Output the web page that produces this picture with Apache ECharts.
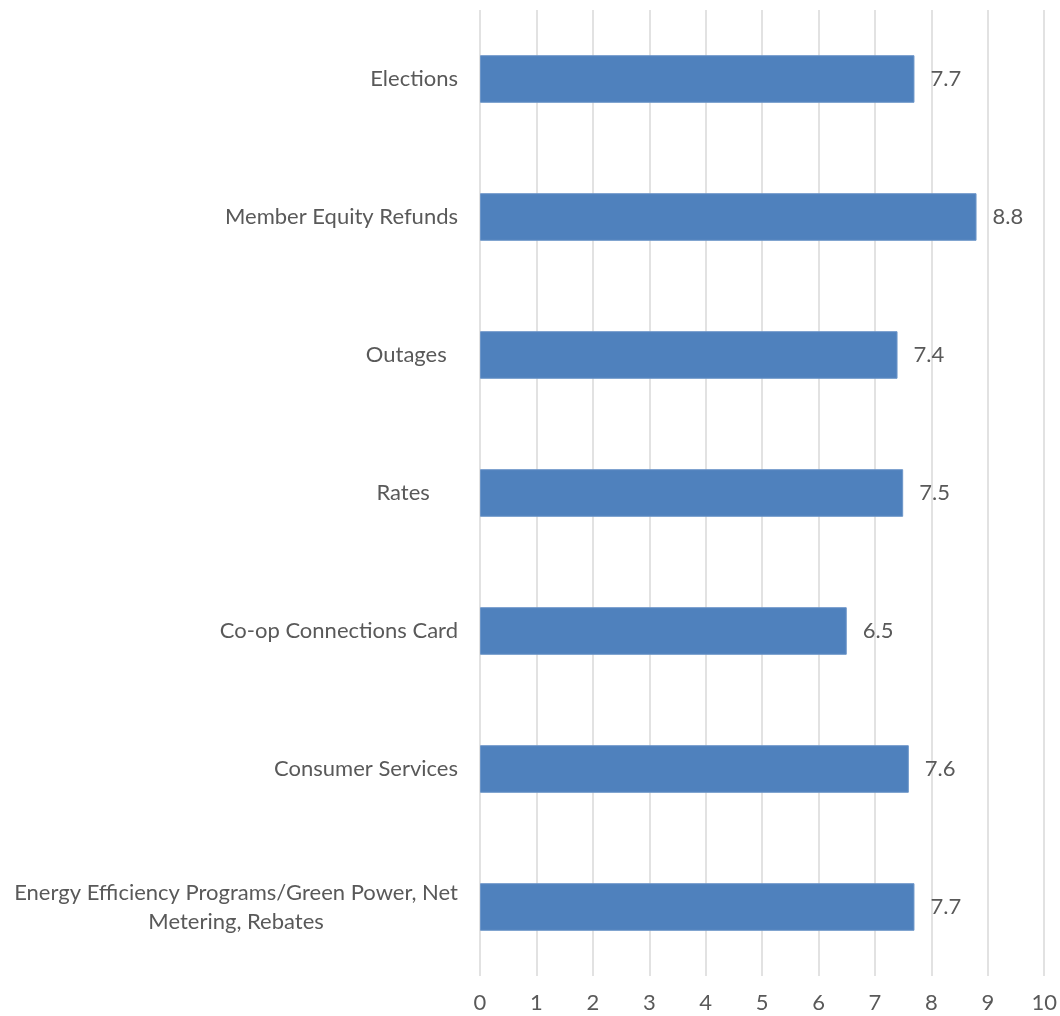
<!DOCTYPE html>
<html>
<head>
<meta charset="utf-8">
<script src="https://cdn.jsdelivr.net/npm/echarts@6/dist/echarts.min.js"></script>
<style>
  html, body { margin: 0; padding: 0; background: #ffffff; }
  #chart { width: 1060px; height: 1016px; }
</style>
</head>
<body>
<div id="chart"></div>
<script>
// Topic categories, listed top to bottom as displayed
const categories = [
  'Elections',
  'Member Equity Refunds',
  'Outages  ',
  'Rates     ',
  'Co-op Connections Card',
  'Consumer Services',
  'Energy Efficiency Programs/Green Power, Net\nMetering, Rebates'
];
// Average score per topic
const scores = [7.7, 8.8, 7.4, 7.5, 6.5, 7.6, 7.7];
// Value axis ticks
const xTicks = [0, 1, 2, 3, 4, 5, 6, 7, 8, 9, 10];

const FONT = 'Lato';
const TEXT = '#595959';
const SIZE = 22;

const chart = echarts.init(document.getElementById('chart'), null, { renderer: 'canvas' });

chart.setOption({
  backgroundColor: '#ffffff',
  animation: false,
  grid: { left: 480, right: 15, top: 10, bottom: 40, containLabel: false },
  xAxis: {
    type: 'value',
    min: xTicks[0],
    max: xTicks[xTicks.length - 1],
    interval: 1,
    axisLine: { show: false },
    axisTick: { show: false },
    splitLine: { show: true, lineStyle: { color: '#d9d9d9', width: 1.5 } },
    axisLabel: { color: TEXT, fontFamily: FONT, fontSize: SIZE, margin: 16 }
  },
  yAxis: {
    type: 'category',
    inverse: true,
    data: categories,
    axisLine: { show: false },
    axisTick: { show: false },
    splitLine: { show: false },
    axisLabel: {
      color: TEXT,
      fontFamily: FONT,
      fontSize: SIZE,
      margin: 22,
      lineHeight: 29,
      formatter: function (v) {
        return v.split('\n').map(function (s) { return '{c|' + s + '}'; }).join('\n');
      },
      rich: {
        c: { align: 'center', color: TEXT, fontFamily: FONT, fontSize: SIZE, lineHeight: 29 }
      }
    }
  },
  series: [{
    type: 'bar',
    data: scores,
    barWidth: '34.5%',
    itemStyle: { color: '#4f81bd', borderColor: '#6d96c9', borderWidth: 1 },
    label: {
      show: true,
      position: 'right',
      distance: 16,
      color: TEXT,
      fontFamily: FONT,
      fontSize: SIZE,
      formatter: function (p) { return p.value.toFixed(1); }
    }
  }]
});
</script>
</body>
</html>
